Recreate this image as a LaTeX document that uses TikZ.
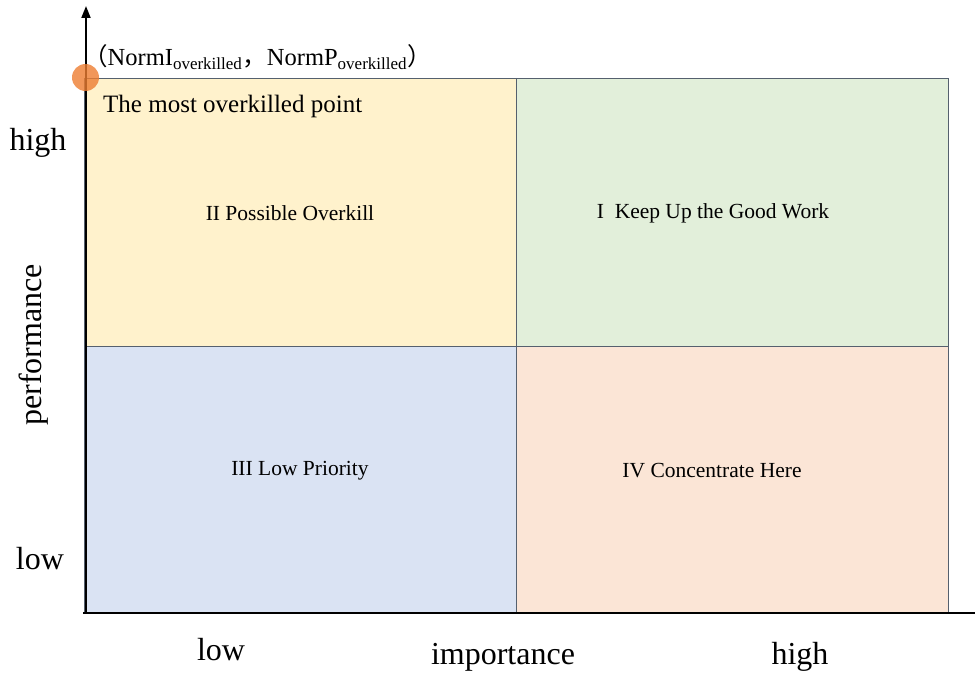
\documentclass[tikz,border=0pt]{standalone}
\usepackage{fontspec}
\setmainfont{Liberation Serif}
\newfontfamily\cjkfont{Noto Sans CJK SC}
\usetikzlibrary{arrows.meta}
\definecolor{qyellow}{HTML}{FFF2CC}
\definecolor{qgreen}{HTML}{E2EFDA}
\definecolor{qblue}{HTML}{DAE3F3}
\definecolor{qpeach}{HTML}{FBE5D6}
\definecolor{qborder}{HTML}{55606E}
\definecolor{dotorange}{HTML}{ED7D31}
\begin{document}
\begin{tikzpicture}[x=1pt,y=-1pt,
  quad/.style={draw=qborder, line width=0.9pt},
  axisline/.style={black, line width=1.8pt},
  qlabel/.style={font=\fontsize{21.5}{24}\selectfont, inner sep=0pt},
  biglabel/.style={font=\fontsize{32}{36}\selectfont, inner sep=0pt},
]
\useasboundingbox (0,0) rectangle (975,674);
% quadrants
\fill[qyellow] (84,78) rectangle (516,346);
\fill[qgreen] (516,78) rectangle (948,346);
\fill[qblue] (84,346) rectangle (516,613);
\fill[qpeach] (516,346) rectangle (948,613);
\draw[quad] (84,78) rectangle (948,613);
\draw[quad] (516,78) -- (516,613);
\draw[quad] (84,346) -- (948,346);
% axes
\coordinate (origin) at (86,613);
\coordinate (ytop) at (86,6);
\coordinate (xstart) at (83,613);
\coordinate (xend) at (975,613);
\draw[axisline, -{Triangle[length=12pt, width=9pt]}] (origin) -- (ytop);
\draw[axisline] (xstart) -- (xend);
% quadrant labels
\node[qlabel] (q2) at (290,213) {II Possible Overkill};
\node[qlabel] (q1) at (713,213) {I\ \ Keep Up the Good Work};
\node[qlabel] (q3) at (300,471) {III Low Priority};
\node[qlabel] (q4) at (712,471) {IV Concentrate Here};
% axis labels
\node[biglabel] (yhigh) at (38,143) {high};
\node[biglabel] (ylow) at (40,559) {low};
\node[biglabel, rotate=90] (yname) at (34,345) {performance};
\node[biglabel] (xlow) at (221,650) {low};
\node[biglabel] (xname) at (503,657) {importance};
\node[biglabel] (xhigh) at (800,657) {high};
% overkilled point
\fill[dotorange, opacity=0.8] (85.5,77.5) circle (13.5);
\node[anchor=west, inner sep=0pt, font=\fontsize{25}{28}\selectfont] (most) at (103,106) {The most overkilled point};
\node[anchor=base west, inner sep=0pt, font=\fontsize{24.5}{28}\selectfont] (coord) at (83,66)
  {{\cjkfont （}NormI\textsubscript{\fontsize{17}{19}\selectfont overkilled}{\cjkfont ，}NormP\textsubscript{\fontsize{17}{19}\selectfont overkilled}{\cjkfont ）}};
\end{tikzpicture}
\end{document}
